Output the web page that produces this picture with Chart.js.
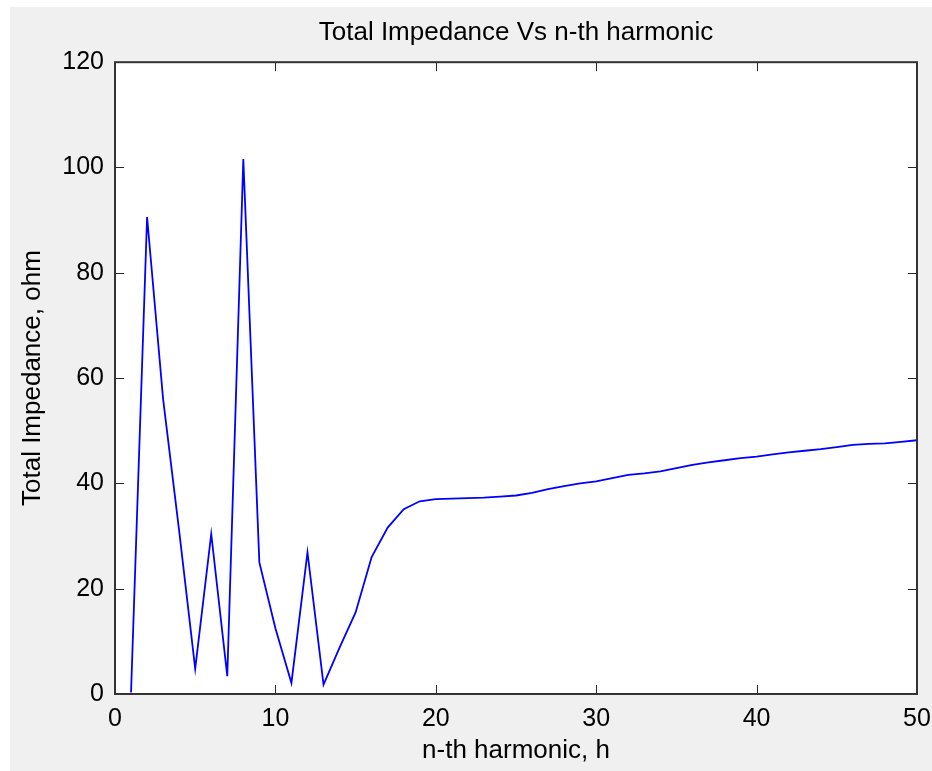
<!DOCTYPE html>
<html>
<head>
<meta charset="utf-8">
<script src="https://cdn.jsdelivr.net/npm/chart.js@4.4.1/dist/chart.umd.min.js"></script>
<style>
  html, body { margin: 0; padding: 0; background: #ffffff; }
  #wrap { position: absolute; left: 10px; top: 7px; width: 922px; height: 764px; background: #f0f0f0; }
</style>
</head>
<body>
<div id="wrap"><canvas id="impChart" width="922" height="764"></canvas></div>
<script>
const harmonics = [1, 2, 3, 4, 5, 6, 7, 8, 9, 10,
    11, 12, 13, 14, 15, 16, 17, 18, 19, 20,
    21, 22, 23, 24, 25, 26, 27, 28, 29, 30,
    31, 32, 33, 34, 35, 36, 37, 38, 39, 40,
    41, 42, 43, 44, 45, 46, 47, 48, 49, 50];

const impedance = [0.3, 90.6, 56, 31, 4.8, 30.4, 3.4, 101.6, 25, 12.5,
    2.1, 26.9, 1.8, 8.8, 15.5, 26, 31.6, 35.1, 36.6, 37.0,
    37.1, 37.2, 37.3, 37.5, 37.7, 38.2, 38.9, 39.5, 40.0, 40.4,
    41.0, 41.6, 41.9, 42.3, 42.9, 43.5, 44.0, 44.4, 44.8, 45.1,
    45.5, 45.9, 46.2, 46.5, 46.9, 47.3, 47.5, 47.6, 47.9, 48.2];

const xTicks = [0, 10, 20, 30, 40, 50];
const yTicks = [0, 20, 40, 60, 80, 100, 120];

const fontFamily = '"Liberation Sans", Arial, sans-serif';

// white axes box, frame and inward ticks (matlab style)
const matlabBox = {
    id: 'matlabBox',
    beforeDatasetsDraw(chart) {
        const a = chart.chartArea;
        const ctx = chart.ctx;
        ctx.save();
        ctx.fillStyle = '#ffffff';
        ctx.fillRect(a.left, a.top, a.right - a.left, a.bottom - a.top);
        ctx.restore();
    },
    afterDraw(chart) {
        const a = chart.chartArea;
        const ctx = chart.ctx;
        const len = 9;
        ctx.save();
        ctx.strokeStyle = '#262626';
        ctx.lineWidth = 1;
        ctx.beginPath();
        xTicks.forEach(v => {
            const px = Math.round(chart.scales.x.getPixelForValue(v)) + 0.5;
            ctx.moveTo(px, a.bottom); ctx.lineTo(px, a.bottom - len);
            ctx.moveTo(px, a.top); ctx.lineTo(px, a.top + len);
        });
        yTicks.forEach(v => {
            const py = Math.round(chart.scales.y.getPixelForValue(v)) + 0.5;
            ctx.moveTo(a.left, py); ctx.lineTo(a.left + len, py);
            ctx.moveTo(a.right, py); ctx.lineTo(a.right - len, py);
        });
        ctx.stroke();
        ctx.strokeStyle = '#333333';
        ctx.lineWidth = 2;
        ctx.strokeRect(a.left, a.top, a.right - a.left, a.bottom - a.top);
        ctx.restore();
    }
};

const data = {
    datasets: [{
        label: 'Total Impedance',
        data: harmonics.map((h, i) => ({ x: h, y: impedance[i] })),
        borderColor: '#0000ff',
        borderWidth: 1.8,
        pointRadius: 0,
        tension: 0,
        fill: false
    }]
};

const config = {
    type: 'line',
    data: data,
    options: {
        responsive: false,
        animation: false,
        layout: {
            padding: { left: 0, right: 15, top: 0, bottom: 0 }
        },
        plugins: {
            legend: { display: false },
            tooltip: { enabled: false },
            title: {
                display: true,
                fullSize: false,
                text: 'Total Impedance Vs n-th harmonic',
                color: '#000000',
                font: { family: fontFamily, size: 26, weight: 'normal' },
                padding: { top: 10, bottom: 14 }
            }
        },
        scales: {
            x: {
                type: 'linear',
                min: 0,
                max: 50,
                afterBuildTicks: s => { s.ticks = xTicks.map(v => ({ value: v })); },
                grid: { display: false, drawTicks: false },
                border: { display: false },
                ticks: {
                    color: '#000000',
                    padding: 10,
                    maxRotation: 0,
                    font: { family: fontFamily, size: 25 }
                },
                title: {
                    display: true,
                    text: 'n-th harmonic, h',
                    color: '#000000',
                    font: { family: fontFamily, size: 26 },
                    padding: { top: 0, bottom: 5 }
                },
                afterFit: s => { s.height = 77; s.paddingRight = 0; }
            },
            y: {
                type: 'linear',
                min: 0,
                max: 120,
                afterBuildTicks: s => { s.ticks = yTicks.map(v => ({ value: v })); },
                grid: { display: false, drawTicks: false },
                border: { display: false },
                ticks: {
                    color: '#000000',
                    padding: 11,
                    font: { family: fontFamily, size: 25 }
                },
                title: {
                    display: true,
                    text: 'Total Impedance, ohm',
                    color: '#000000',
                    font: { family: fontFamily, size: 26 },
                    padding: { top: 7, bottom: 0 }
                },
                afterFit: s => { s.width = 105; }
            }
        }
    },
    plugins: [matlabBox]
};

const impChart = new Chart(
    document.getElementById('impChart'),
    config
);
</script>
</body>
</html>
